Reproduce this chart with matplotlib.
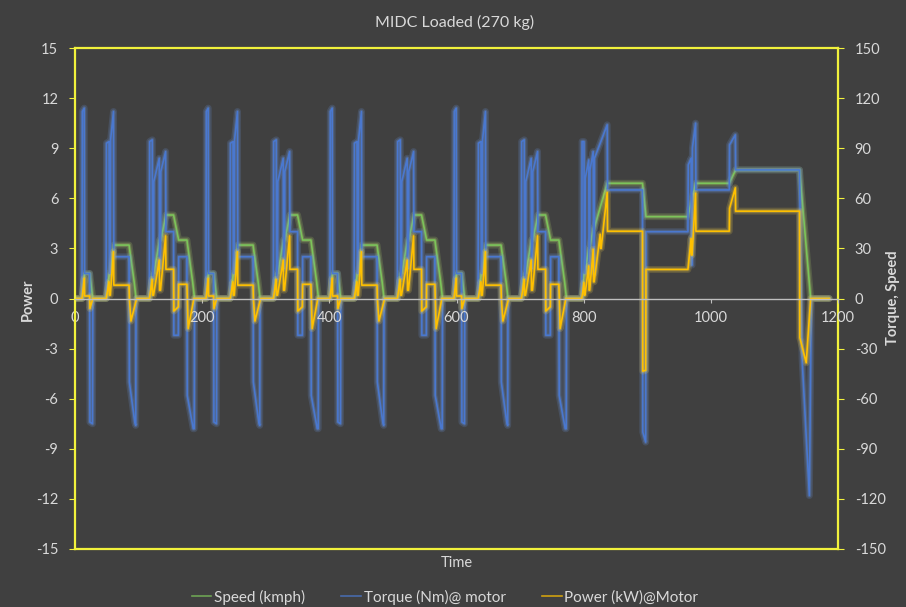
import matplotlib
matplotlib.use("Agg")
import matplotlib.pyplot as plt
from matplotlib.lines import Line2D

plt.rcParams['font.family'] = ['Lato', 'DejaVu Sans']
plt.rcParams['axes.unicode_minus'] = False

# one ECE-15 style urban block (time relative to block start, s)
urban_speed_t = [0, 11, 15, 23, 28, 49, 54, 56, 61, 85, 93, 96,
                 117, 122, 124, 133, 135, 143, 155, 163, 176, 185, 188, 195]
urban_speed = [0, 0, 15, 15, 0, 0, 15, 15, 32, 32, 10, 0,
               0, 15, 15, 35, 35, 50, 50, 35, 35, 10, 0, 0]

urban_torque_t = [0, 11, 11.5, 14.5, 15, 23, 23.5, 27.5, 28,
                  49, 49.5, 53.5, 54, 55.5, 56, 60.5, 61, 85, 85.5, 94, 95.5, 96,
                  117, 117.5, 121.5, 122, 123.5, 124, 132.5, 133, 134.5, 135, 142.5,
                  143, 155, 155.5, 162.5, 163, 176, 176.5, 186, 187.5, 188, 195]
urban_torque = [0, 0, 112, 114, 15, 15, -74, -75, 0,
                0, 93, 94, 15, 15, 95, 112, 25, 25, -50, -74, -76, 0,
                0, 94, 95, 12, 12, 70, 84, 18, 18, 76, 88,
                40, 40, -22, -22, 25, 25, -58, -78, -78, 0, 0]

urban_power_t = [0, 11, 14.5, 15, 23, 23.5, 28,
                 49, 53.5, 54, 55.5, 60.5, 61, 85, 85.5, 88, 97,
                 117, 121.5, 122, 123.5, 132.5, 133, 134.5, 142.5, 143, 155,
                 155.5, 162.5, 163, 176, 178, 187, 195]
urban_power = [0, 0, 1.2, 0.15, 0.15, -0.6, 0,
               0, 1.0, 0.2, 0.2, 2.8, 0.8, 0.8, 0, -1.35, 0,
               0, 1.15, 0.2, 0.2, 2.3, 0.5, 0.5, 3.75, 1.75, 1.75,
               -0.75, -0.5, 0.85, 0.85, -1.8, 0, 0]

n_urban = 4
urban_len = 195

# extra urban part (absolute time, s)
eudc_speed_t = [780, 797, 800.5, 802, 808, 809.5, 815, 816.5, 837, 892.5, 898,
                964, 976, 1029, 1039, 1139.5, 1157, 1186]
eudc_speed = [0, 0, 15, 15, 30, 30, 42, 42, 69, 69, 49,
              49, 69, 69, 77, 77, 0, 0]

eudc_torque_t = [780, 797, 797.5, 800.5, 801, 802, 802.5, 808, 808.5, 809.5,
                 810, 815, 815.5, 816.5, 817, 837, 837.5, 892.5, 893, 897.5,
                 898, 964, 964.5, 969, 969.5, 970.5, 971, 976, 976.5, 1029,
                 1029.5, 1038.5, 1039, 1139.5, 1143.5, 1155, 1158, 1186]
eudc_torque = [0, 0, 94, 94, 15, 15, 72, 83, 15, 15,
               77, 88, 15, 15, 84, 104, 65, 65, -80, -86,
               40, 40, 80, 84, 20, 20, 90, 105, 65, 65,
               92, 98, 77, 77, -36, -118, 0, 0]

eudc_power_t = [780, 797, 800.5, 801, 802, 808, 808.5, 809.5, 815, 815.5,
                816.5, 826, 826.5, 827.5, 837, 837.5, 892.5, 893, 897.5, 898,
                964, 969, 969.5, 970.5, 976, 976.5, 1029, 1029.5, 1038.5, 1039,
                1139.5, 1140, 1150, 1157, 1186]
eudc_power = [0, 0, 0.95, 0.2, 0.2, 1.95, 0.5, 0.5, 2.95, 1.0,
              1.0, 3.85, 3.0, 3.0, 6.35, 4.03, 4.03, -4.35, -4.3, 1.74,
              1.74, 3.6, 2.6, 2.6, 6.3, 4.03, 4.03, 5.4, 6.63, 5.23,
              5.23, -2.35, -3.85, 0, 0]

labels = ['Speed (kmph)', 'Torque (Nm)@ motor', 'Power (kW)@Motor']
colors = ['#7CC45A', '#4A78CF', '#FFC000']
glows = ['#B8E070', '#6E9BE8', '#FFD84A']


def full_cycle(ut, uv, et, ev):
    t = [x + k * urban_len for k in range(n_urban) for x in ut] + et
    v = uv * n_urban + ev
    return t, v


def glow_line(axis, t, v, color, glow):
    axis.plot(t, v, color=glow, lw=5, alpha=0.18, solid_capstyle='round')
    axis.plot(t, v, color=glow, lw=2.8, alpha=0.25, solid_capstyle='round')
    axis.plot(t, v, color=color, lw=1.2)


bg = '#404040'
axis_yellow = '#F2F23C'
txt = '#D9D9D9'

fig = plt.figure(figsize=(9.06, 6.07), dpi=100, facecolor=bg)
ax = fig.add_axes([75 / 906, 1 - 549 / 607, (838 - 75) / 906, (549 - 48) / 607])
ax2 = ax.twinx()
ax.set_zorder(ax2.get_zorder() + 1)
ax.patch.set_visible(False)
ax2.patch.set_visible(False)

t, v = full_cycle(urban_speed_t, urban_speed, eudc_speed_t, eudc_speed)
glow_line(ax2, t, v, colors[0], glows[0])
t, v = full_cycle(urban_torque_t, urban_torque, eudc_torque_t, eudc_torque)
glow_line(ax2, t, v, colors[1], glows[1])
t, v = full_cycle(urban_power_t, urban_power, eudc_power_t, eudc_power)
glow_line(ax, t, v, colors[2], glows[2])

ax.set_xlim(0, 1200)
ax.set_ylim(-15, 15)
ax2.set_ylim(-150, 150)
ax.set_xticks(range(0, 1201, 200))
ax.set_yticks(range(-15, 16, 3))
ax2.set_yticks(range(-150, 151, 30))

# x axis crosses at zero
ax.spines['bottom'].set_position(('data', 0))
ax.spines['bottom'].set_color('#BFBFBF')
ax.spines['bottom'].set_linewidth(1.0)
for s in ['left', 'top']:
    ax.spines[s].set_color(axis_yellow)
    ax.spines[s].set_linewidth(1.6)
ax.spines['right'].set_visible(False)
for s in ['top', 'left']:
    ax2.spines[s].set_visible(False)
for s in ['right', 'bottom']:
    ax2.spines[s].set_color(axis_yellow)
    ax2.spines[s].set_linewidth(1.6)

ax.tick_params(axis='x', colors='#BFBFBF', labelcolor=txt, labelsize=10.5, length=3, pad=6)
ax.tick_params(axis='y', colors=axis_yellow, labelcolor=txt, labelsize=10.5, length=4, pad=8)
ax2.tick_params(axis='y', colors=axis_yellow, labelcolor=txt, labelsize=10.5, length=4, pad=8)
ax2.tick_params(axis='x', bottom=False, labelbottom=False)

fig.text(28 / 906, 1 - 300 / 607, 'Power', rotation=90, color=txt, fontsize=10.5,
         ha='center', va='center', fontweight='bold')
fig.text(893 / 906, 1 - 298 / 607, 'Torque, Speed', rotation=90, color=txt, fontsize=10.5,
         ha='center', va='center', fontweight='bold')
fig.text(457 / 906, 1 - 563 / 607, 'Time', color=txt, fontsize=10.5, ha='center', va='center')
fig.text(455 / 906, 1 - 22 / 607, 'MIDC Loaded (270 kg)', color=txt, fontsize=11.5,
         ha='center', va='center')

handles = [Line2D([], [], color=c, lw=1.2, alpha=0.75) for c in colors]
fig.legend(handles, labels, loc='center', bbox_to_anchor=(445 / 906, 1 - 597 / 607),
           ncol=3, frameon=False, labelcolor=txt, fontsize=11, handlelength=1.3,
           handletextpad=0.15, columnspacing=2.4)

fig.savefig('out.png', dpi=100, facecolor=bg)
plt.close(fig)
